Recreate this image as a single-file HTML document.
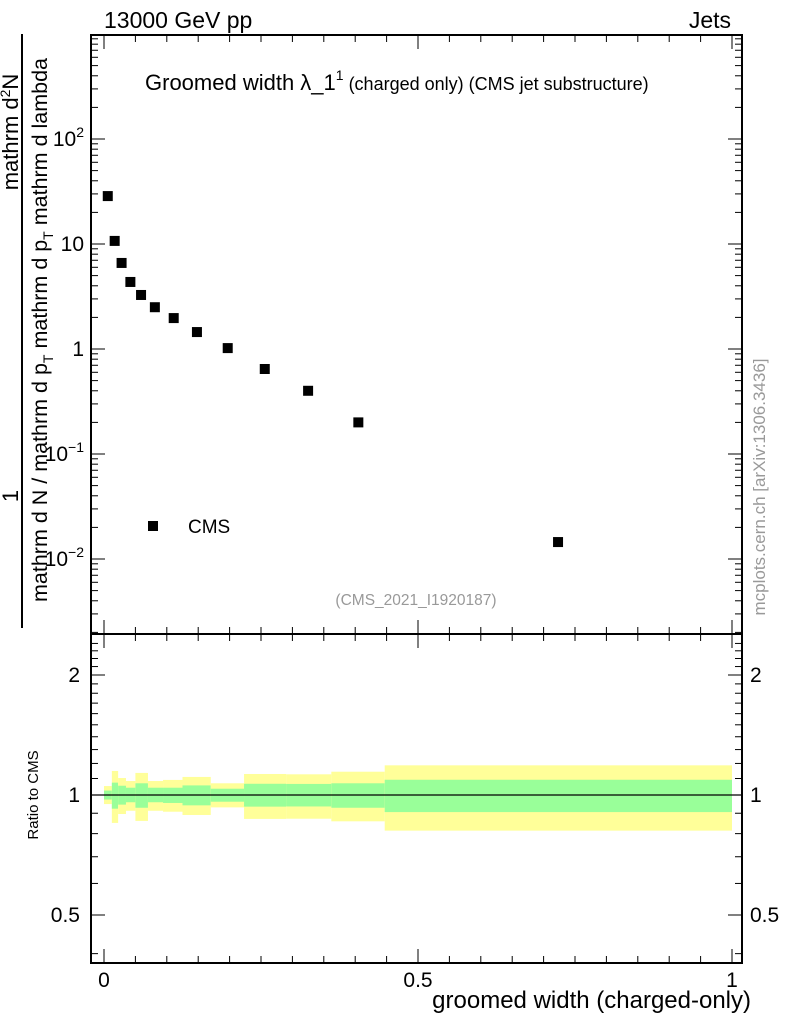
<!DOCTYPE html>
<html><head><meta charset="utf-8"><style>
html,body{margin:0;padding:0;background:#fff;}
svg{display:block;font-family:"Liberation Sans",Arial,sans-serif;}
</style></head><body>
<svg id="c" width="786" height="1024" viewBox="0 0 786 1024" xmlns="http://www.w3.org/2000/svg">
<g id="bands"></g>
<g id="marks"></g>
<g id="axes"></g>
<text x="104" y="28" font-size="23">13000 GeV pp</text>
<text x="731" y="28" font-size="23" text-anchor="end">Jets</text>
<text x="145" y="90" font-size="22">Groomed width λ_1<tspan font-size="14" dy="-10">1</tspan><tspan font-size="18" dy="10"> (charged only) (CMS jet substructure)</tspan></text>
<rect x="148" y="521" width="10" height="10" fill="#000"/>
<text x="188" y="533" font-size="19">CMS</text>
<text x="416" y="605" font-size="15.5" fill="#999" text-anchor="middle">(CMS_2021_I1920187)</text>
<text transform="translate(765,487) rotate(-90)" font-size="17" fill="#999" text-anchor="middle">mcplots.cern.ch [arXiv:1306.3436]</text>
<text transform="translate(38,795) rotate(-90)" font-size="15" text-anchor="middle">Ratio to CMS</text>
<text x="751" y="1008" font-size="24" text-anchor="end">groomed width (charged-only)</text>
<g>
<line x1="22" y1="34" x2="22" y2="628" stroke="#000" stroke-width="2"/>
<text transform="translate(18,132) rotate(-90)" font-size="22" text-anchor="middle">mathrm d<tspan font-size="14" dy="-8">2</tspan><tspan dy="8">N</tspan></text>
<text transform="translate(18,496) rotate(-90)" font-size="22" text-anchor="middle">1</text>
<text transform="translate(47,330) rotate(-90)" font-size="21.5" text-anchor="middle">mathrm d N / mathrm d p<tspan font-size="14" dy="6">T</tspan><tspan dy="-6"> mathrm d p</tspan><tspan font-size="14" dy="6">T</tspan><tspan dy="-6"> mathrm d lambda</tspan></text>
</g>
</svg>
<script>
const binEdges=[0,0.0125,0.0225,0.035,0.05,0.07,0.094,0.125,0.17,0.223,0.29,0.362,0.447,1];
const values=[28.6,10.7,6.6,4.35,3.27,2.5,1.97,1.45,1.02,0.645,0.40,0.20,0.0145];
const pointX=[0.006,0.017,0.028,0.042,0.059,0.081,0.111,0.148,0.197,0.256,0.325,0.405,0.723];
const yellowHi=[1.053,1.149,1.103,1.084,1.136,1.084,1.091,1.110,1.070,1.129,1.127,1.144,1.187];
const yellowLo=[0.949,0.851,0.896,0.913,0.861,0.913,0.908,0.891,0.931,0.871,0.872,0.859,0.814];
const greenHi=[1.026,1.074,1.055,1.043,1.070,1.043,1.043,1.057,1.037,1.067,1.066,1.070,1.092];
const greenLo=[0.974,0.924,0.946,0.959,0.929,0.959,0.955,0.942,0.962,0.935,0.936,0.929,0.906];
const mainTicks=[0.01,0.1,1,10,100];
const mainTickLabels=["10","10","1","10","10"];
const mainTickExp=["−2","−1","","","2"];
const ratioTicks=[0.5,1,2];
const ratioTickLabels=["0.5","1","2"];
const xTicks=[0,0.5,1];
const xTickLabels=["0","0.5","1"];

const NS="http://www.w3.org/2000/svg";
const L=91,R=742,T=35,MID=634,B=963;
const xs=v=>104+628*v;
const ym=v=>349-105*Math.log10(v);
const yr=v=>795-120*Math.log2(v);
function mk(tag,attrs,parent){const e=document.createElementNS(NS,tag);for(const k in attrs)e.setAttribute(k,attrs[k]);parent.appendChild(e);return e;}
const bands=document.getElementById('bands'),marks=document.getElementById('marks'),axes=document.getElementById('axes');
for(let i=0;i<values.length;i++){
  const x0=xs(binEdges[i]),x1=xs(binEdges[i+1]);
  const y=mk('rect',{x:x0,y:yr(yellowHi[i]),width:x1-x0,height:yr(yellowLo[i])-yr(yellowHi[i]),fill:'#ffff99'},bands);
  
  
  const g=mk('rect',{x:x0,y:yr(greenHi[i]),width:x1-x0,height:yr(greenLo[i])-yr(greenHi[i]),fill:'#99ff99'},bands);
  
  
  const p=mk('rect',{x:xs(pointX[i])-5,y:ym(values[i])-5,width:10,height:10,fill:'#000'},marks);
  
  
}
const ref=mk('line',{x1:L,x2:R,y1:yr(1),y2:yr(1),stroke:'#000','stroke-width':1.3},bands);


const f1=mk('rect',{x:L,y:T,width:R-L,height:MID-T,fill:'none',stroke:'#000','stroke-width':2},axes);


const f2=mk('rect',{x:L,y:MID,width:R-L,height:B-MID,fill:'none',stroke:'#000','stroke-width':2},axes);


function tick(x1,y1,x2,y2,w){mk('line',{x1,y1,x2,y2,stroke:'#000','stroke-width':w||1},axes);}
for(let k=0;k<=20;k++){const v=k*0.05,x=xs(v),len=(k%10==0)?14:7;
  tick(x,MID,x,MID-len);tick(x,T,x,T+len);tick(x,B,x,B-len);tick(x,MID,x,MID+len);}
xTicks.forEach((v,i)=>{const t=mk('text',{x:xs(v),y:B+24,'font-size':21,'text-anchor':'middle'},axes);t.textContent=xTickLabels[i];
  
  });
for(let d=-3;d<=3;d++)for(let m=1;m<10;m++){const v=m*Math.pow(10,d),y=ym(v);if(y<T||y>MID)continue;const len=m==1?14:7;tick(L,y,L+len,y);tick(R,y,R-len,y);}
mainTicks.forEach((v,i)=>{const t=mk('text',{x:84,y:ym(v)+7,'font-size':21,'text-anchor':'end'},axes);
  
  
  t.textContent=mainTickLabels[i];
  if(mainTickExp[i]){const s=document.createElementNS(NS,'tspan');s.setAttribute('font-size',14);s.setAttribute('dy',-9);s.textContent=mainTickExp[i];t.appendChild(s);}});
for(let v=0.4;v<=2.5;v+=0.1){const y=yr(v);if(y<MID||y>B)continue;const maj=ratioTicks.some(r=>Math.abs(r-v)<1e-6);const len=maj?14:7;tick(L,y,L+len,y);tick(R,y,R-len,y);}
ratioTicks.forEach((v,i)=>{const t=mk('text',{x:80,y:yr(v)+7,'font-size':21,'text-anchor':'end'},axes);t.textContent=ratioTickLabels[i];
  
  
  const t2=mk('text',{x:750,y:yr(v)+7,'font-size':21},axes);t2.textContent=ratioTickLabels[i];
  
  });
</script>
</body></html>
